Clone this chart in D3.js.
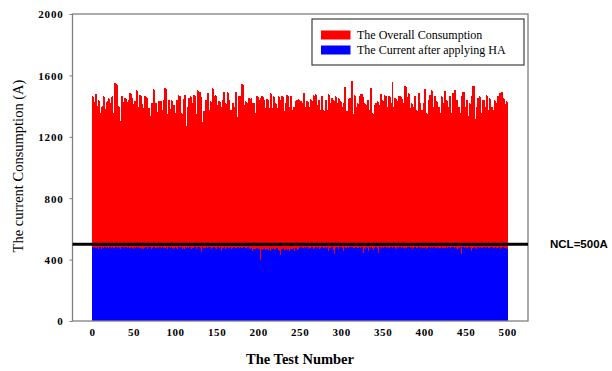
<!DOCTYPE html>
<html>
<head>
<meta charset="utf-8">
<script src="https://cdn.jsdelivr.net/npm/d3@7"></script>
<style>
    html, body { margin: 0; padding: 0; background: #fff; }
    svg { display: block; }
</style>
</head>
<body>
<svg id="chart"></svg>
<script>
// overall consumption per test (A), tests 1..500
const overallConsumption = [
    1466,1458,1424,1415,1479,1398,1392,1442,1436,1356,1350,1394,1401,1466,1460,1378,1372,1427,1433,1454,
    1448,1420,1414,1462,1468,1355,1350,1549,1546,1538,1532,1399,1393,1299,1305,1466,1461,1424,1419,1453,
    1447,1430,1426,1441,1437,1485,1479,1450,1454,1416,1421,1436,1432,1505,1498,1395,1400,1471,1466,1419,
    1414,1388,1383,1463,1458,1460,1455,1385,1390,1333,1330,1418,1423,1510,1504,1417,1421,1365,1362,1430,
    1425,1436,1433,1376,1372,1441,1437,1516,1509,1354,1351,1442,1437,1374,1378,1440,1435,1408,1404,1352,
    1357,1442,1437,1473,1469,1463,1459,1354,1350,1440,1444,1474,1469,1270,1397,1393,1452,1448,1463,1458,
    1419,1415,1473,1468,1354,1351,1506,1500,1495,1490,1463,1458,1290,1294,1365,1361,1441,1437,1488,1483,
    1376,1372,1430,1426,1517,1512,1463,1459,1473,1468,1408,1404,1430,1425,1397,1393,1441,1437,1495,1489,
    1419,1415,1494,1488,1441,1436,1376,1372,1423,1419,1397,1392,1495,1490,1321,1327,1467,1462,1464,1469,
    1546,1540,1408,1404,1430,1426,1423,1418,1452,1447,1449,1454,1419,1414,1423,1418,1354,1350,1467,1462,
    1441,1437,1452,1448,1463,1458,1441,1436,1387,1383,1445,1441,1387,1382,1484,1479,1387,1383,1463,1458,
    1419,1414,1387,1383,1463,1459,1441,1436,1467,1462,1376,1371,1419,1415,1473,1468,1397,1392,1467,1463,
    1376,1372,1397,1393,1430,1425,1441,1437,1445,1440,
    1436,1431,1423,1419,1488,1483,1397,1392,1430,1426,1397,1393,1445,1440,1436,1431,1473,1468,1476,1470,
    1408,1403,1441,1437,1376,1372,1463,1458,1376,1371,1441,1437,1376,1372,1480,1475,1419,1414,1452,1448,
    1441,1436,1463,1459,1419,1414,1452,1447,1430,1426,1397,1392,1419,1415,1527,1270,1365,1361,1445,1440,
    1452,1448,1566,1354,1350,1473,1469,1397,1392,1419,1415,1463,1458,1480,1476,1463,1458,1419,1415,1408,
    1403,1441,1437,1376,1371,1517,1512,1354,1350,1408,1404,1419,1414,1430,1426,1408,1403,1480,1476,1441,
    1436,1473,1469,1466,1461,1397,1393,1463,1458,1419,1415,1560,1397,1392,1452,1448,1441,1436,1463,1459,
    1467,1462,1452,1447,1419,1415,1533,1527,1463,1458,1484,1480,1387,1382,1419,1415,1397,1392,1463,1459,
    1376,1371,1488,1484,1419,1414,1376,1372,1419,1414,1510,1504,1354,1349,1441,1437,1473,1468,1506,1501,
    1397,1393,1467,1462,1430,1426,1397,1392,1354,1350,1463,1458,1419,1415,1499,1494,1441,1436,1397,1393,
    1463,1458,1354,1350,1484,1479,1506,1501,1441,1437,1397,1392,1354,1350,1463,1458,1495,1491,1397,1392,
    1441,1437,1333,1338,1419,1414,1463,1459,1533,1528,1311,1318,1397,1393,1452,1447,1463,1459,1354,1349,
    1441,1437,1397,1392,1473,1469,1376,1371,1452,1448,1397,1392,1376,1372,1441,1436,1419,1415,1463,1458,
    1488,1484,1495,1490,1452,1447,1419,1415,1430,1424
];

// current after applying HA per test (A), tests 1..500
const currentAfterHA = [
    480,476,483,471,478,474,482,468,477,481, 472,463,479,475,470,482,478,466,480,474,
    477,483,469,476,481,473,478,465,482,476, 471,480,475,468,459,479,474,482,458,476,
    481,470,477,483,472,478,464,480,475,471, 482,476,468,479,474,481,466,477,472,441,
    478,470,476,430,480,473,467,482,475,479, 471,452,478,474,481,468,476,441,480,472,
    477,482,466,475,479,470,478,445,474,481, 468,476,480,473,462,479,475,471,458,478,
    482,474,469,477,480,465,476,481,472,478, 470,436,479,475,482,467,476,480,473,469,
    478,474,445,481,476,468,479,473,482,466, 477,452,480,472,478,475,463,481,476,470,
    479,474,482,468,477,463,480,473,476,471, 478,482,466,475,480,459,472,478,474,481,
    469,477,480,458,475,471,482,466,478,474, 480,463,473,477,468,481,475,470,479,464,
    476,459,480,472,478,467,475,481,462,477, 470,474,458,452,467,408,472,463,476,445,
    468,393,397,472,460,430,469,476,465,465, 471,419,462,474,458,452,470,463,476,463,
    467,460,473,430,464,458,430,471,463,468, 474,462,465,470,465,441,472,459,466,423,
    470,462,476,458,468,473,464,463,471,477, 474,480,468,477,472,481,466,476,479,471,
    463,478,473,464,480,365,472,477,469,481, 465,476,480,471,478,474,482,468,477,473,
    480,469,476,481,458,474,478,467,480,475, 463,436,477,471,480,474,468,479,475,481,
    470,476,459,480,473,478,467,482,475,471, 479,474,480,468,477,473,452,481,476,470,
    478,482,466,475,480,472,441,477,471,436, 479,474,458,481,468,476,480,473,465,478,
    475,481,470,477,445,472,479,474,468,480, 476,471,479,474,463,480,468,477,473,481,
    470,476,452,479,475,433,472,480,459,477, 481,469,476,480,473,478,466,475,458,481,
    474,479,468,477,482,472,463,476,480,471, 478,474,452,480,467,476,481,473,469,478,
    475,480,471,477,466,482,441,474,479,430, 476,481,468,477,473,480,463,475,471,478,
    482,474,469,478,459,476,480,472,477,481, 468,475,479,473,480,466,477,482,474,470,
    445,478,475,481,436,472,479,476,458,480, 473,477,469,481,475,478,459,433,476,472,
    480,474,468,477,481,473,452,479,475,470, 478,482,458,476,472,480,468,475,445,479,
    474,481,470,477,473,480,466,476,452,478, 481,472,477,469,480,475,463,478,473,468
];

const xTickValues = [0, 50, 100, 150, 200, 250, 300, 350, 400, 450, 500];
const yTickValues = [0, 400, 800, 1200, 1600, 2000];
const seriesNames = ['The Overall Consumption', 'The Current after applying HA'];
const seriesColors = ['#ff0000', '#0000ff'];
const nclValue = 500;
const nclLabel = 'NCL=500A';

const width = 612, height = 371;
const plot = { left: 72.5, right: 528, top: 14, bottom: 321 };

const svg = d3.select('#chart').attr('width', width).attr('height', height);

const x = d3.scaleLinear().domain([-23.5, 525]).range([plot.left, plot.right]);
const y = d3.scaleLinear().domain([0, 2000]).range([plot.bottom, plot.top]);

const serif = '"Liberation Serif", "Times New Roman", serif';

// bars overlap a little so the fill stays solid (no white seams between sub-pixel bars);
// lowTop paints the shorter bars last so their dips are not hidden by a neighbour
const drawBars = (values, color, lowTop) => {
    const items = values.map((v, i) => ({ v, i }));
    if (lowTop) items.sort((a, b) => b.v - a.v);
    svg.append('g')
        .attr('shape-rendering', 'crispEdges')
        .selectAll('rect')
        .data(items)
        .join('rect')
        .attr('x', d => x(d.i))
        .attr('width', d => x(d.i + 1) - x(d.i) + 0.6)
        .attr('y', d => y(d.v))
        .attr('height', d => y(0) - y(d.v))
        .attr('fill', color);
};
drawBars(overallConsumption, seriesColors[0], false);
drawBars(currentAfterHA, seriesColors[1], true);

// plot frame
svg.append('rect')
    .attr('x', plot.left).attr('y', plot.top)
    .attr('width', plot.right - plot.left).attr('height', plot.bottom - plot.top)
    .attr('fill', 'none').attr('stroke', '#808080').attr('stroke-width', 1.3);

// y axis
const yAxis = svg.append('g')
    .attr('transform', `translate(${ plot.left },0)`)
    .call(d3.axisLeft(y).tickValues(yTickValues).tickFormat(d3.format('d')).tickSize(3).tickPadding(6));
yAxis.select('.domain').remove();
yAxis.selectAll('line').attr('stroke', '#808080');
yAxis.selectAll('text')
    .attr('font-family', serif).attr('font-weight', 'bold').attr('font-size', 11)
    .attr('letter-spacing', 0.8).attr('fill', '#000').attr('dy', '0.35em');

// x axis
const xAxis = svg.append('g')
    .attr('transform', `translate(0,${ plot.bottom })`)
    .call(d3.axisBottom(x).tickValues(xTickValues).tickFormat(d3.format('d')).tickSize(0).tickPadding(7));
xAxis.select('.domain').remove();
xAxis.selectAll('text')
    .attr('font-family', serif).attr('font-weight', 'bold').attr('font-size', 11)
    .attr('letter-spacing', 0.6).attr('fill', '#000');

// NCL line
svg.append('line')
    .attr('x1', plot.left).attr('x2', plot.right)
    .attr('y1', y(nclValue)).attr('y2', y(nclValue))
    .attr('stroke', '#000').attr('stroke-width', 3);
svg.append('text')
    .attr('x', 550).attr('y', y(nclValue)).attr('dy', '0.35em')
    .attr('font-family', '"Liberation Sans", Arial, sans-serif').attr('font-weight', 'bold')
    .attr('font-size', 11.5).attr('fill', '#000')
    .text(nclLabel);

// axis titles
svg.append('text')
    .attr('x', 300).attr('y', 359).attr('dy', '0.35em').attr('text-anchor', 'middle')
    .attr('font-family', serif).attr('font-weight', 'bold').attr('font-size', 14.5)
    .text('The Test Number');
svg.append('text')
    .attr('transform', 'translate(18,166) rotate(-90)')
    .attr('dy', '0.35em').attr('text-anchor', 'middle')
    .attr('font-family', serif).attr('font-size', 14.5)
    .text('The current Consumption (A)');

// legend
const legend = svg.append('g').attr('transform', 'translate(312,19)');
legend.append('rect')
    .attr('width', 212).attr('height', 46)
    .attr('fill', '#fff').attr('stroke', '#404040').attr('stroke-width', 1.2);
seriesNames.forEach((name, i) => {
    const row = legend.append('g').attr('transform', `translate(0,${ 16 + i * 15 })`);
    row.append('rect')
        .attr('x', 9).attr('y', -4.5).attr('width', 29.5).attr('height', 9)
        .attr('fill', seriesColors[i]);
    row.append('text')
        .attr('x', 45).attr('dy', '0.35em')
        .attr('font-family', serif).attr('font-size', 12)
        .text(name);
});
</script>
</body>
</html>
